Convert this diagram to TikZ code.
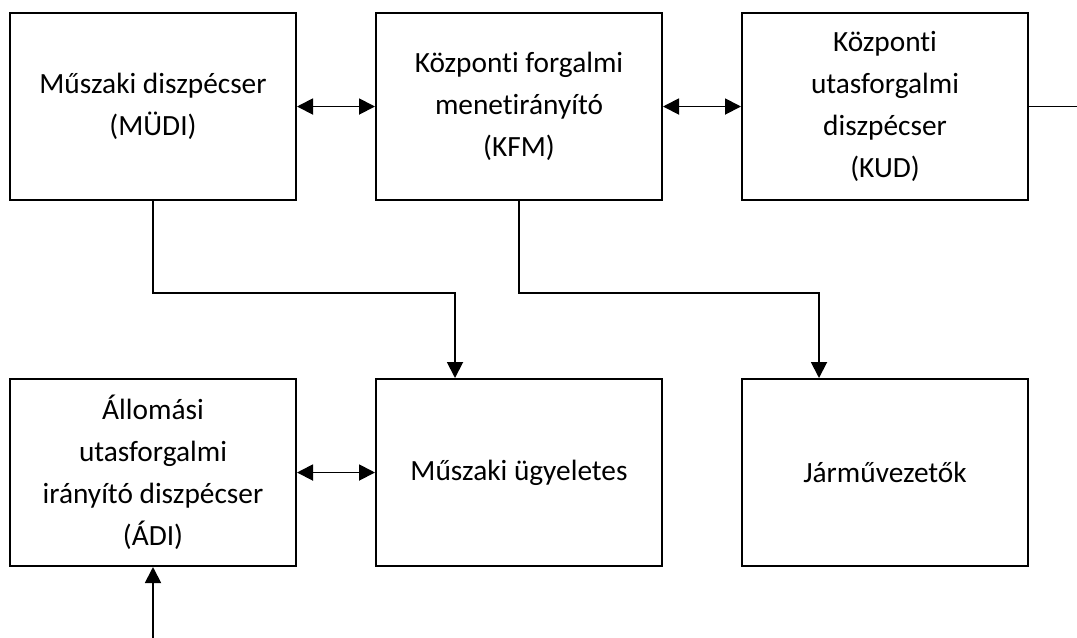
\documentclass[tikz,border=0pt]{standalone}
\usepackage{fontspec}
\setmainfont{Carlito}[Ligatures=NoCommon]
\usepackage{tikz}
\usetikzlibrary{calc,positioning,arrows.meta}

\begin{document}
\begin{tikzpicture}[x=0.75pt, y=-0.75pt, node distance=132.75pt and 58.5pt,
	box/.style = {draw, line width=1.5pt, minimum width=214.5pt, minimum height=140.25pt, align=center, inner sep=2pt, font=\fontsize{22}{31.5}\selectfont},
	>={Triangle[length=12pt, width=12pt]}, line width=1.4pt]
\useasboundingbox (0,0) rectangle (1077,637);
\node[box] at (153,106.5)			 (mudi)  {Műszaki diszpécser\\(MÜDI)};
\node[box, right=of mudi]			 (kfm)   {Központi forgalmi\\menetirányító\\(KFM)};
\node[box, right=of kfm]			 (kud)   {Központi\\utasforgalmi\\diszpécser\\(KUD)};
\node[box, below=of mudi]			 (adi)   {Állomási\\utasforgalmi\\irányító diszpécser\\(ÁDI)};
\node[box, below=of kfm]			 (musz)  {Műszaki ügyeletes};
\node[box, below=of kud]			 (jarmu) {Járművezetők};
\coordinate[below=69pt of mudi.south]	 (mbend);
\coordinate[below=69pt of kfm.south]	 (kbend);
\coordinate[left=48pt of musz.north]	 (mtop);
\coordinate[left=49.5pt of jarmu.north]	 (jtop);
\coordinate[below=55.5pt of adi.south]	 (adiin);
\coordinate (kudout) at (1077,106.5);

\draw[<->] (mudi) -- (kfm);
\draw[<->] (kfm) -- (kud);
\draw[<->] (adi) -- (musz);
\draw (kud.east) -- (kudout);
\draw[->] (mudi.south) -- (mbend) -| (mtop);
\draw[->] (kfm.south) -- (kbend) -| (jtop);
\draw[->] (adiin) -- (adi.south);

\end{tikzpicture}
\end{document}
